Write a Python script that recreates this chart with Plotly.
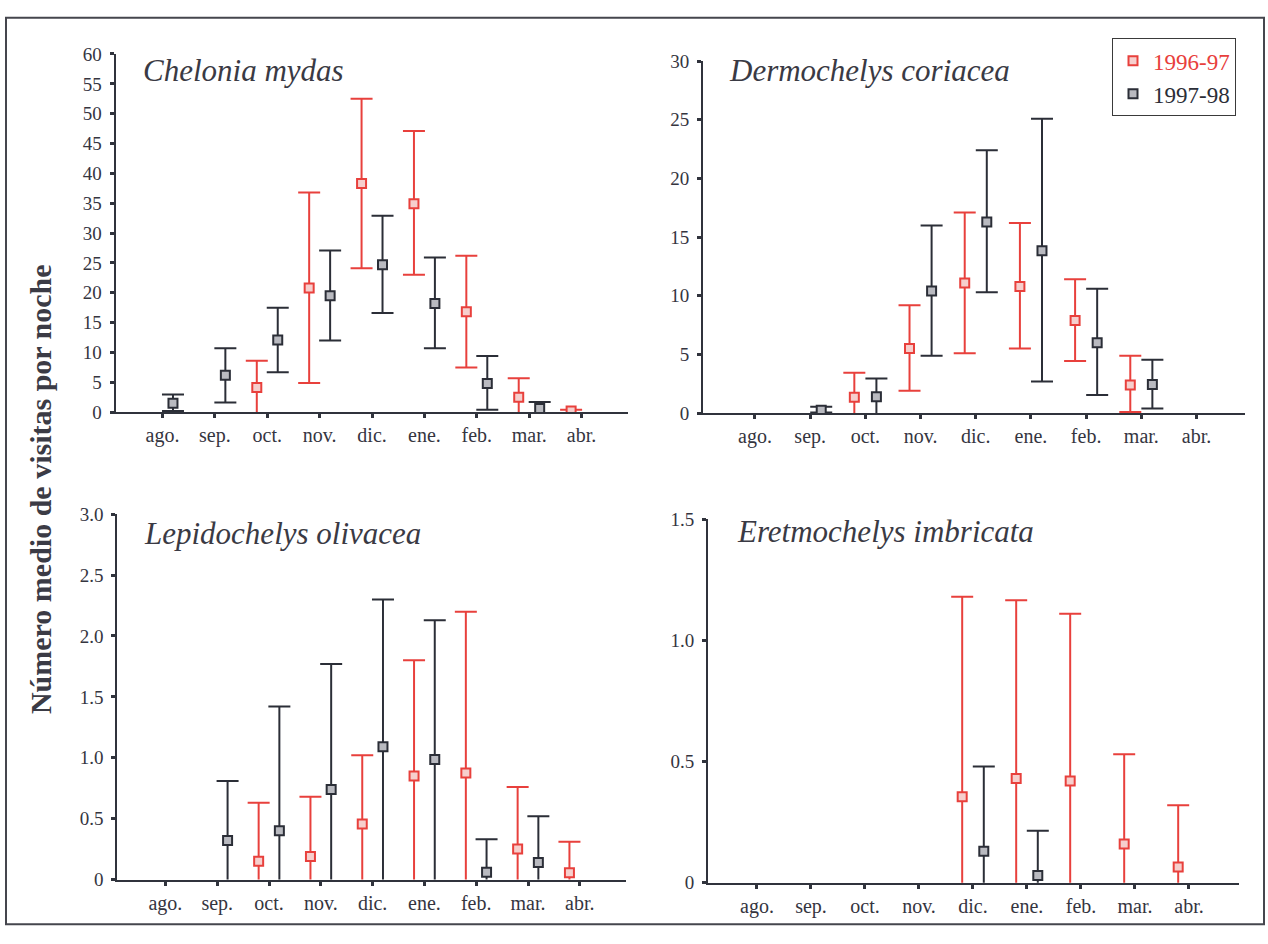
import plotly.graph_objects as go

# ---- data -------------------------------------------------------------
MONTHS = ["ago.", "sep.", "oct.", "nov.", "dic.", "ene.", "feb.", "mar.", "abr."]
SEASONS = ["1996-97", "1997-98"]

# Chelonia mydas (mean and interval bounds per month)
cm_mean_9697 = [None, None, 4.15, 20.8, 38.3, 34.9, 16.8, 2.5, 0.2]
cm_up_9697 = [None, None, 8.6, 36.8, 52.5, 47.1, 26.2, 5.7, 0.4]
cm_lo_9697 = [None, None, 0, 4.9, 24.1, 23.0, 7.5, 0, 0]
cm_mean_9798 = [1.5, 6.2, 12.1, 19.5, 24.7, 18.2, 4.8, 0.6, None]
cm_up_9798 = [2.95, 10.7, 17.5, 27.1, 32.9, 25.9, 9.4, 1.7, None]
cm_lo_9798 = [0.2, 1.6, 6.7, 12.0, 16.6, 10.7, 0.4, 0, None]

# Dermochelys coriacea
dc_mean_9697 = [None, None, 1.35, 5.5, 11.1, 10.8, 7.9, 2.4, None]
dc_up_9697 = [None, None, 3.45, 9.2, 17.1, 16.2, 11.4, 4.9, None]
dc_lo_9697 = [None, None, 0, 1.9, 5.1, 5.5, 4.45, 0.1, None]
dc_mean_9798 = [None, 0.25, 1.4, 10.4, 16.3, 13.85, 6.0, 2.45, None]
dc_up_9798 = [None, 0.55, 2.95, 16.0, 22.4, 25.1, 10.6, 4.55, None]
dc_lo_9798 = [None, 0.05, 0, 4.9, 10.3, 2.7, 1.55, 0.4, None]

# Lepidochelys olivacea
lo_mean_9697 = [None, None, 0.15, 0.19, 0.455, 0.85, 0.875, 0.25, 0.055]
lo_up_9697 = [None, None, 0.63, 0.68, 1.02, 1.80, 2.20, 0.76, 0.31]
lo_lo_9697 = [None, None, 0, 0, 0, 0, 0, 0, 0]
lo_mean_9798 = [None, 0.32, 0.40, 0.74, 1.09, 0.985, 0.06, 0.14, None]
lo_up_9798 = [None, 0.81, 1.42, 1.77, 2.30, 2.13, 0.33, 0.52, None]
lo_lo_9798 = [None, 0, 0, 0, 0, 0, 0, 0, None]

# Eretmochelys imbricata
ei_mean_9697 = [None, None, None, None, 0.355, 0.43, 0.42, 0.16, 0.065]
ei_up_9697 = [None, None, None, None, 1.18, 1.165, 1.11, 0.53, 0.32]
ei_lo_9697 = [None, None, None, None, 0, 0, 0, 0, 0]
ei_mean_9798 = [None, None, None, None, 0.13, 0.03, None, None, None]
ei_up_9798 = [None, None, None, None, 0.48, 0.215, None, None, None]
ei_lo_9798 = [None, None, None, None, 0, 0, None, None, None]

# y-axis ticks per panel
cm_ticks = [0, 5, 10, 15, 20, 25, 30, 35, 40, 45, 50, 55, 60]
cm_ticktext = ["0", "5", "10", "15", "20", "25", "30", "35", "40", "45", "50", "55", "60"]
dc_ticks = [0, 5, 10, 15, 20, 25, 30]
dc_ticktext = ["0", "5", "10", "15", "20", "25", "30"]
lo_ticks = [0, 0.5, 1.0, 1.5, 2.0, 2.5, 3.0]
lo_ticktext = ["0", "0.5", "1.0", "1.5", "2.0", "2.5", "3.0"]
ei_ticks = [0, 0.5, 1.0, 1.5]
ei_ticktext = ["0", "0.5", "1.0", "1.5"]

# ---- styling ----------------------------------------------------------
W, H = 1268, 944
RED = "#e8403c"
DARK = "#2b2e37"
AXIS = "#30333c"
TEXT = "#35353f"
FONT = "Liberation Serif, Times New Roman, serif"


def px_x(p):
    return p / W


def px_y(p):
    return 1 - p / H


panels = [
    dict(name="Chelonia mydas", ymax=60, ticks=cm_ticks, ticktext=cm_ticktext,
         series=[(cm_mean_9697, cm_up_9697, cm_lo_9697), (cm_mean_9798, cm_up_9798, cm_lo_9798)],
         xdom=(115.5, 628), ydom=(45, 411.3), xr=(-0.897, 8.886), title_xy=(141, 62)),
    dict(name="Dermochelys coriacea", ymax=30, ticks=dc_ticks, ticktext=dc_ticktext,
         series=[(dc_mean_9697, dc_up_9697, dc_lo_9697), (dc_mean_9798, dc_up_9798, dc_lo_9798)],
         xdom=(703, 1244.7), ydom=(52.3, 412.3), xr=(-0.942, 8.873), title_xy=(727, 62)),
    dict(name="Lepidochelys olivacea", ymax=3.0, ticks=lo_ticks, ticktext=lo_ticktext,
         series=[(lo_mean_9697, lo_up_9697, lo_lo_9697), (lo_mean_9798, lo_up_9798, lo_lo_9798)],
         xdom=(117.3, 626), ydom=(515.7, 889.3), xr=(-0.929, 8.892), title_xy=(142, 535)),
    dict(name="Eretmochelys imbricata", ymax=1.5, ticks=ei_ticks, ticktext=ei_ticktext,
         series=[(ei_mean_9697, ei_up_9697, ei_lo_9697), (ei_mean_9798, ei_up_9798, ei_lo_9798)],
         xdom=(708, 1239), ydom=(520.7, 892.7), xr=(-0.907, 8.926), title_xy=(735, 533)),
]

season_style = [
    dict(offset=-0.2, color=RED, fill="#f6cfcd"),
    dict(offset=0.2, color=DARK, fill="#b9bac0"),
]

fig = go.Figure()
layout = dict(
    width=W, height=H, margin=dict(l=0, r=0, t=0, b=0), autosize=False,
    paper_bgcolor="white", plot_bgcolor="white",
    font=dict(family=FONT, color=TEXT, size=20),
    showlegend=True,
)
annotations = []

for i, p in enumerate(panels):
    sfx = "" if i == 0 else str(i + 1)
    xa, ya = "x" + sfx, "y" + sfx
    for s, (mean, up, lo) in enumerate(p["series"]):
        st = season_style[s]
        xs, ys, ep, em = [], [], [], []
        for k, m in enumerate(mean):
            if m is None:
                continue
            xs.append(k + st["offset"])
            ys.append(m)
            ep.append(up[k] - m)
            minus = m - lo[k]
            # bars that reach the baseline are pushed just past it so the cap is clipped
            if lo[k] == 0:
                minus += 0.03 * p["ymax"]
            em.append(minus)
        fig.add_trace(go.Scatter(
            x=xs, y=ys, xaxis=xa, yaxis=ya, mode="markers",
            name=f"<span style='color:{st['color']}'>{SEASONS[s]}</span>",
            showlegend=(i == 1), cliponaxis=True,
            marker=dict(symbol="square", size=9, color=st["fill"],
                        line=dict(color=st["color"], width=2)),
            error_y=dict(type="data", symmetric=False, array=ep, arrayminus=em,
                         color=st["color"], thickness=2, width=11),
        ))
    layout["xaxis" + sfx] = dict(
        domain=[px_x(p["xdom"][0]), px_x(p["xdom"][1])], anchor=ya,
        range=list(p["xr"]), tickmode="array", tickvals=list(range(len(MONTHS))),
        ticktext=MONTHS, ticks="outside", ticklen=4, tickwidth=3, tickcolor=AXIS,
        showline=True, linecolor=AXIS, linewidth=2, showgrid=False, zeroline=False,
        tickfont=dict(family=FONT, size=20, color=TEXT), fixedrange=True,
    )
    layout["yaxis" + sfx] = dict(
        domain=[px_y(p["ydom"][1]), px_y(p["ydom"][0])], anchor=xa,
        range=[0, p["ymax"]], tickmode="array", tickvals=p["ticks"], ticktext=p["ticktext"],
        ticks="outside", ticklen=4, tickwidth=3, tickcolor=AXIS,
        showline=True, linecolor=AXIS, linewidth=2, showgrid=False, zeroline=False,
        tickfont=dict(family=FONT, size=19, color=TEXT), ticklabelstandoff=4,
        fixedrange=True,
    )
    # species name in the upper-left corner of each panel
    annotations.append(dict(
        text=p["name"], xref="paper", yref="paper",
        x=px_x(p["title_xy"][0]), y=px_y(p["title_xy"][1]),
        xanchor="left", yanchor="middle", showarrow=False,
        font=dict(family=FONT, size=31, color="#3a3a44", style="italic"),
    ))

annotations.append(dict(
    text="<b>Número medio de visitas por noche</b>", xref="paper", yref="paper",
    x=px_x(40), y=px_y(490), xanchor="center", yanchor="middle", textangle=-90,
    showarrow=False, font=dict(family=FONT, size=30, color="#3b3b45"),
))

layout["annotations"] = annotations
layout["legend"] = dict(
    x=px_x(1112), y=px_y(29), xanchor="left", yanchor="top",
    bgcolor="white", bordercolor="#3a3a3a", borderwidth=1,
    font=dict(family=FONT, size=23, color=TEXT), tracegroupgap=0,
)
layout["shapes"] = [dict(
    type="rect", xref="paper", yref="paper",
    x0=px_x(6), x1=px_x(1264), y0=px_y(935), y1=px_y(8),
    line=dict(color="#45464d", width=2), fillcolor="rgba(0,0,0,0)", layer="below",
)]

fig.update_layout(**layout)
fig.write_html("out.html")
